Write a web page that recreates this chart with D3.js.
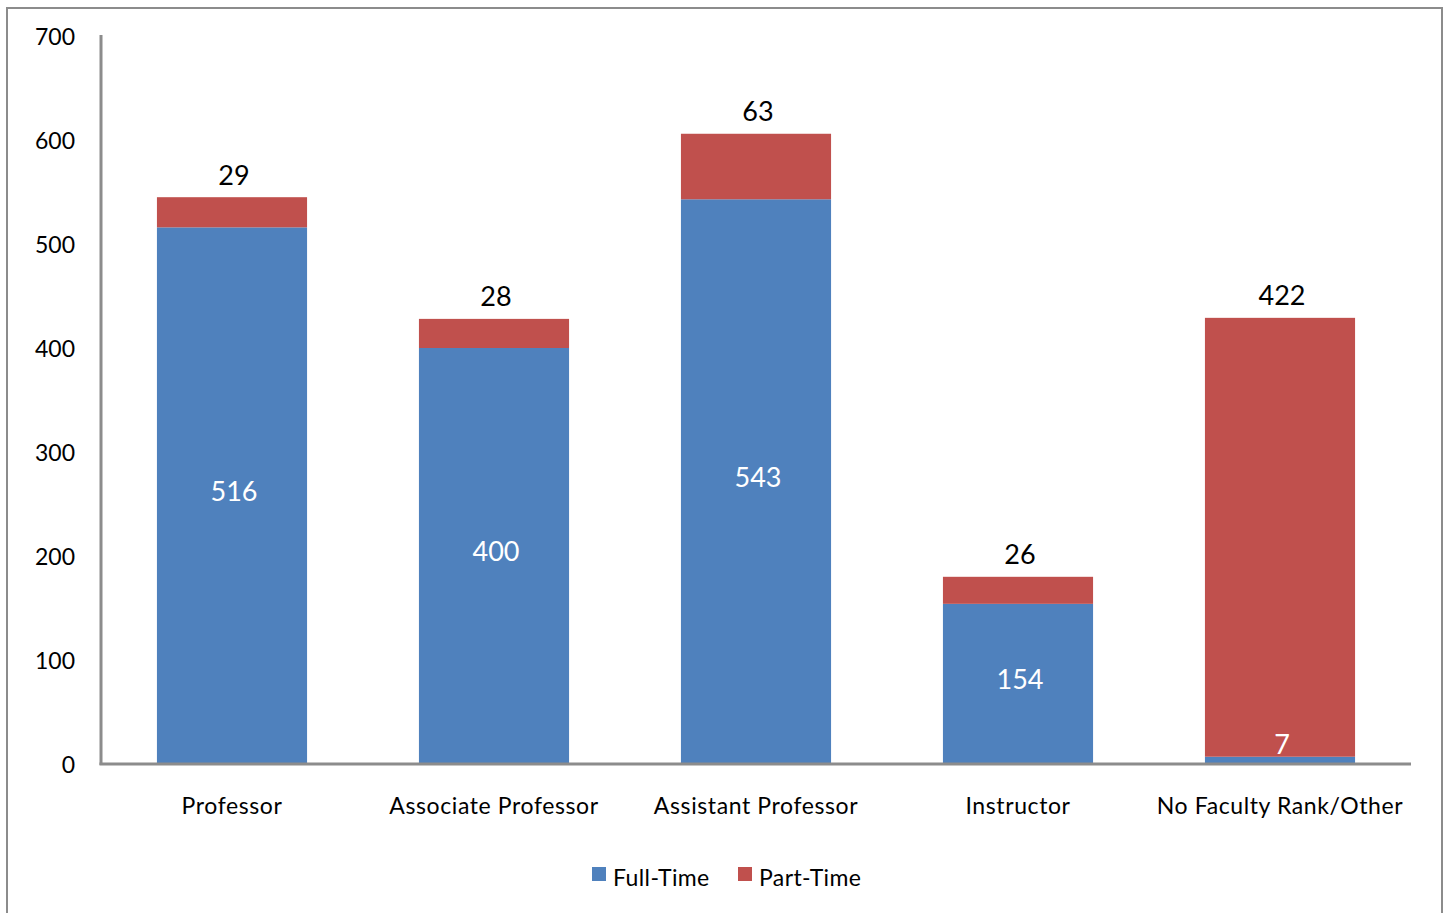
<!DOCTYPE html>
<html><head><meta charset="utf-8">
<script src="https://cdn.jsdelivr.net/npm/d3@7/dist/d3.min.js"></script>
<style>html,body{margin:0;padding:0;background:#fff;}svg{display:block;font-family:Lato,"Open Sans",sans-serif;}</style>
</head><body><svg id="chart" width="1447" height="913"></svg>
<script>
const categories = ["Professor","Associate Professor","Assistant Professor","Instructor","No Faculty Rank/Other"];
const fullTime = [516, 400, 543, 154, 7];
const partTime = [29, 28, 63, 26, 422];
const seriesNames = ["Full-Time","Part-Time"];
const seriesColors = ["#4F81BD","#C0504D"];
const yTicks = [0,100,200,300,400,500,600,700];

const svg = d3.select("#chart");
// outer border
svg.append("rect").attr("x",7).attr("y",8).attr("width",1435).attr("height",920)
  .attr("fill","#fff").attr("stroke","#8c8c8c").attr("stroke-width",2);

const m = {left:101, right:1411, top:36, bottom:764};
const x = d3.scaleBand().domain(categories).range([m.left,m.right]).paddingInner(0.427).paddingOuter(0.2135);
const y = d3.scaleLinear().domain([0,700]).range([m.bottom,m.top]);

const rows = categories.map((c,i)=>({cat:c, ft:fullTime[i], pt:partTime[i]}));
const stacked = d3.stack().keys(["ft","pt"])(rows);

stacked.forEach((layer,si)=>{
  svg.append("g").selectAll("rect").data(layer).join("rect")
    .attr("x",d=>x(d.data.cat)).attr("width",x.bandwidth())
    .attr("y",d=>y(d[1])).attr("height",d=>y(d[0])-y(d[1]))
    .attr("fill",seriesColors[si]);
});

// y axis
const yAxis = d3.axisLeft(y).tickValues(yTicks).tickSize(0).tickPadding(26);
const gy = svg.append("g").attr("transform",`translate(${m.left},0)`).call(yAxis);
gy.select(".domain").attr("stroke","#8c8c8c").attr("stroke-width",3).attr("d",`M0,${m.top-1}V${m.bottom+1}`);
gy.selectAll("text").attr("font-size",23).attr("fill","#000").attr("font-family","Lato,sans-serif").attr("dy","0.35em");

// x axis
const xAxis = d3.axisBottom(x).tickSize(0).tickPadding(34);
const gx = svg.append("g").attr("transform",`translate(0,${m.bottom})`).call(xAxis);
gx.select(".domain").attr("stroke","#8c8c8c").attr("stroke-width",3).attr("d",`M${m.left-1.5},0H${m.right}`);
gx.selectAll("text").attr("font-size",23).attr("fill","#000").attr("font-family","Lato,sans-serif").attr("letter-spacing","0.6px");

// labels: full-time inside (white)
svg.append("g").selectAll("text").data(stacked[0]).join("text")
  .attr("x",d=>x(d.data.cat)+x.bandwidth()/2+2)
  .attr("y",d=>Math.min((y(d[0])+y(d[1]))/2 - 4, y(0)-19))
  .attr("dy","0.35em").attr("text-anchor","middle")
  .attr("font-size",27).attr("fill","#fff").text(d=>d.data.ft);

// labels: part-time above (black)
svg.append("g").selectAll("text").data(stacked[1]).join("text")
  .attr("x",d=>x(d.data.cat)+x.bandwidth()/2+2)
  .attr("y",d=>y(d[1])-22)
  .attr("dy","0.35em").attr("text-anchor","middle")
  .attr("font-size",27).attr("fill","#000").text(d=>d.data.pt);

// legend
const leg = svg.append("g");
const legX = [592, 738];
seriesNames.forEach((n,i)=>{
  leg.append("rect").attr("x",legX[i]).attr("y",867).attr("width",14).attr("height",14).attr("fill",seriesColors[i]);
  leg.append("text").attr("x",legX[i]+21).attr("y",878).attr("dy","0.35em")
    .attr("font-size",23).attr("fill","#000").attr("letter-spacing","0.4px").text(n);
});
</script></body></html>
